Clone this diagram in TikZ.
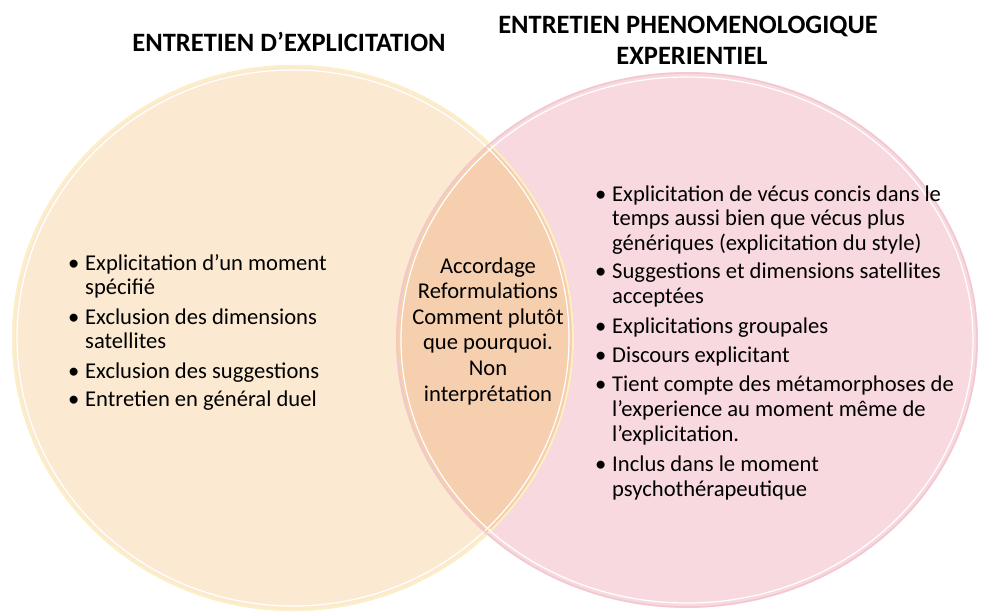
\documentclass[tikz,border=0pt]{standalone}
\usepackage{fontspec}
\setmainfont{Carlito}
\usetikzlibrary{positioning}

\definecolor{expfill}{HTML}{FBEAD1}
\definecolor{exprim}{HTML}{FCEFC6}
\definecolor{phefill}{HTML}{F7D9DF}
\definecolor{pherim}{HTML}{F2C7D0}
\definecolor{bothfill}{HTML}{F6CFAF}

\newcommand{\blt}{\makebox[17pt][l]{•}}

\begin{document}
\begin{tikzpicture}[x=1pt,y=-1pt,
  title/.style={font=\bfseries\fontsize{26.5}{30}\selectfont, inner sep=0pt, anchor=base},
  listtext/.style={font=\fontsize{22.6}{24.5}\selectfont, inner sep=0pt, anchor=base west},
  midtext/.style={font=\fontsize{22.6}{25.6}\selectfont, inner sep=0pt, align=center}]
\useasboundingbox (0,0) rectangle (981,613);

% the two sets
\fill[expfill] (293,338) ellipse [x radius=281, y radius=273];
\fill[phefill] (687,340) ellipse [x radius=291, y radius=268];
\begin{scope}
  \clip (293,338) ellipse [x radius=281, y radius=273];
  \fill[bothfill] (687,340) ellipse [x radius=291, y radius=268];
\end{scope}
\draw[exprim, line width=2pt] (293,338) ellipse [x radius=280, y radius=272];
\draw[white, line width=1.2pt] (293,338) ellipse [x radius=276, y radius=268];
\draw[pherim, line width=1.5pt] (687,340) ellipse [x radius=290, y radius=267];
\draw[white, line width=1.2pt] (687,340) ellipse [x radius=286, y radius=263];

% titles
\node[title] (exptitle) at (289,51) {ENTRETIEN D’EXPLICITATION};
\node[title] (phetitle) at (688,33) {ENTRETIEN PHENOMENOLOGIQUE};
\node[title] (phetitle2) at (692,64) {EXPERIENTIEL};

% left set
\node[listtext] (explist) at (68,270) {%
\begin{tabular}[t]{@{}l@{}}
\blt Explicitation d’un moment\\
\hspace{17pt}spécifié\\[5pt]
\blt Exclusion des dimensions\\
\hspace{17pt}satellites\\[5pt]
\blt Exclusion des suggestions\\[4pt]
\blt Entretien en général duel
\end{tabular}};

% overlap
\node[midtext] (bothtext) at (488,331) {Accordage\\Reformulations\\Comment plutôt\\que pourquoi.\\Non\\interprétation};

% right set
\node[listtext] (phelist) at (595,201) {%
\begin{tabular}[t]{@{}l@{}}
\blt Explicitation de vécus concis dans le\\
\hspace{17pt}temps aussi bien que vécus plus\\
\hspace{17pt}génériques (explicitation du style)\\[3.5pt]
\blt Suggestions et dimensions satellites\\[1pt]
\hspace{17pt}acceptées\\[5.5pt]
\blt Explicitations groupales\\[4.5pt]
\blt Discours explicitant\\[4.5pt]
\blt Tient compte des métamorphoses de\\[0.5pt]
\hspace{17pt}l’experience au moment même de\\[0.5pt]
\hspace{17pt}l’explicitation.\\[5.5pt]
\blt Inclus dans le moment\\[0.5pt]
\hspace{17pt}psychothérapeutique
\end{tabular}};
\end{tikzpicture}
\end{document}
